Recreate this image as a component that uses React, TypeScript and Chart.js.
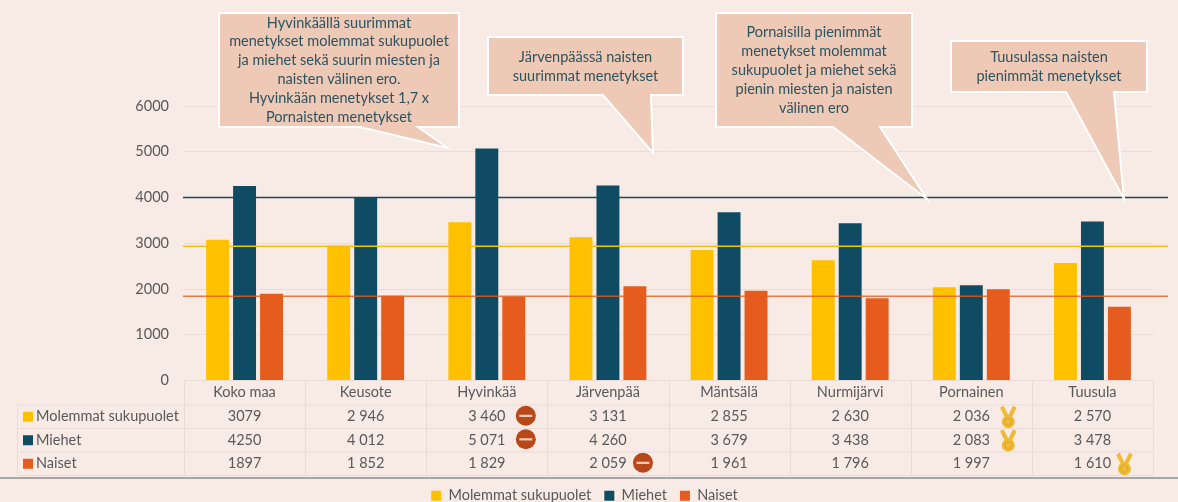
import React, { useEffect, useRef } from "react";
import { Chart, registerables } from "chart.js";

Chart.register(...registerables);

const categories = ["Koko maa", "Keusote", "Hyvinkää", "Järvenpää", "Mäntsälä", "Nurmijärvi", "Pornainen", "Tuusula"];
const seriesNames = ["Molemmat sukupuolet", "Miehet", "Naiset"];
const molemmat = [3079, 2946, 3460, 3131, 2855, 2630, 2036, 2570];
const miehet = [4250, 4012, 5071, 4260, 3679, 3438, 2083, 3478];
const naiset = [1897, 1852, 1829, 2059, 1961, 1796, 1997, 1610];
const referenceIndex = 1; // the horizontal lines sit at the Keusote values
const yTicks = [0, 1000, 2000, 3000, 4000, 5000, 6000];

const minusMarks = [
  { row: 0, col: 2, dx: 39 },
  { row: 1, col: 2, dx: 39 },
  { row: 2, col: 3, dx: 35 },
];
const medalMarks = [
  { row: 0, col: 6, dx: 37 },
  { row: 1, col: 6, dx: 37 },
  { row: 2, col: 7, dx: 32 },
];

const callouts = [
  {
    box: [219, 13, 459, 127], tail: [[360, 127], [448, 148], [418, 127]], firstLine: 23, lineStep: 18.8,
    lines: ["Hyvinkäällä suurimmat", "menetykset molemmat sukupuolet", "ja miehet sekä suurin miesten ja", "naisten välinen ero.", "Hyvinkään menetykset 1,7 x", "Pornaisten menetykset"],
  },
  {
    box: [488, 37, 683, 95], tail: [[603, 95], [653, 153], [651, 95]], firstLine: 57, lineStep: 19.5,
    lines: ["Järvenpäässä naisten", "suurimmat menetykset"],
  },
  {
    box: [716, 13, 912, 127], tail: [[833, 127], [927, 199], [880, 127]], firstLine: 32, lineStep: 19,
    lines: ["Pornaisilla pienimmät", "menetykset molemmat", "sukupuolet ja miehet sekä", "pienin miesten ja naisten", "välinen ero"],
  },
  {
    box: [951, 41, 1147, 92], tail: [[1066, 92], [1124, 199], [1114, 92]], firstLine: 57, lineStep: 19.5,
    lines: ["Tuusulassa naisten", "pienimmät menetykset"],
  },
];

const FONT = "Lato";
const TEXT = "#595959";
const BG = "#F8EAE4";
const COLORS = ["#FFC000", "#0F4C63", "#E55C1E"];
const BORDER = "#E9DCD6";
const ROW_Y = [380.5, 405, 428.5, 452, 475.5];

const fmt = (v: number, col: number) => {
  if (col === 0) return String(v);
  const s = String(v);
  return s.slice(0, -3) + " " + s.slice(-3);
};

const overlay = {
  id: "overlay",
  afterLayout(chart: any) {
    const l = chart.legend;
    if (l) {
      l.top += 11;
      l.bottom += 11;
      l.left += 8;
      l.right += 8;
    }
  },
  afterDatasetsDraw(chart: any) {
    const { ctx, chartArea, scales } = chart;
    const y = scales.y;
    const x = scales.x;
    const series = [molemmat, miehet, naiset];
    ctx.save();

    // reference lines
    series.forEach((s, i) => {
      const py = y.getPixelForValue(s[referenceIndex]) + 0.5;
      ctx.strokeStyle = COLORS[i];
      ctx.globalAlpha = i === 2 ? 0.8 : 1;
      ctx.lineWidth = 1.6;
      ctx.beginPath();
      ctx.moveTo(chartArea.left - 1, py);
      ctx.lineTo(1168, py);
      ctx.stroke();
    });
    ctx.globalAlpha = 1;

    // table
    const colW = (chartArea.right - chartArea.left) / categories.length;
    ctx.strokeStyle = BORDER;
    ctx.lineWidth = 1;
    ROW_Y.forEach((ry, i) => {
      ctx.beginPath();
      ctx.moveTo(i === 0 ? chartArea.left : 17, ry);
      ctx.lineTo(chartArea.right, ry);
      ctx.stroke();
    });
    for (let c = 0; c <= categories.length; c++) {
      const vx = Math.round(chartArea.left + c * colW) + 0.5;
      ctx.beginPath();
      ctx.moveTo(vx, ROW_Y[0]);
      ctx.lineTo(vx, ROW_Y[4]);
      ctx.stroke();
    }
    ctx.beginPath();
    ctx.moveTo(17.5, ROW_Y[1]);
    ctx.lineTo(17.5, ROW_Y[4]);
    ctx.stroke();

    ctx.font = `14.5px ${FONT}`;
    ctx.textBaseline = "middle";
    series.forEach((s, r) => {
      const cy = (ROW_Y[r + 1] + ROW_Y[r + 2]) / 2;
      ctx.fillStyle = COLORS[r];
      ctx.fillRect(23, cy - 5, 10, 10);
      ctx.fillStyle = TEXT;
      ctx.textAlign = "left";
      ctx.fillText(seriesNames[r], 36, cy);
      ctx.textAlign = "center";
      s.forEach((v, c) => {
        ctx.fillText(fmt(v, c), x.getPixelForValue(c), cy);
      });
    });

    minusMarks.forEach((m) => {
      const cx = x.getPixelForValue(m.col) + m.dx;
      const cy = (ROW_Y[m.row + 1] + ROW_Y[m.row + 2]) / 2 - 1;
      ctx.fillStyle = "#B8481A";
      ctx.beginPath();
      ctx.arc(cx, cy, 10, 0, Math.PI * 2);
      ctx.fill();
      ctx.fillStyle = "#F3CDB6";
      ctx.fillRect(cx - 6.5, cy - 1, 13, 2.2);
    });

    medalMarks.forEach((m) => {
      const cx = x.getPixelForValue(m.col) + m.dx;
      const cy = (ROW_Y[m.row + 1] + ROW_Y[m.row + 2]) / 2;
      ctx.strokeStyle = "#EDBB35";
      ctx.fillStyle = "#EDBB35";
      ctx.lineWidth = 4;
      ctx.beginPath();
      ctx.moveTo(cx - 6.5, cy - 10);
      ctx.lineTo(cx - 1, cy + 1);
      ctx.moveTo(cx + 6.5, cy - 10);
      ctx.lineTo(cx + 1, cy + 1);
      ctx.stroke();
      ctx.beginPath();
      ctx.arc(cx, cy + 5, 6.5, 0, Math.PI * 2);
      ctx.fill();
      ctx.strokeStyle = "#DFA51F";
      ctx.lineWidth = 1;
      ctx.beginPath();
      ctx.arc(cx, cy + 5, 3.5, 0, Math.PI * 2);
      ctx.stroke();
    });

    // separator
    ctx.fillStyle = "#A6A6A6";
    ctx.fillRect(0, 477, 1178, 2);

    // callouts
    callouts.forEach((c) => {
      const [x0, y0, x1, y1] = c.box;
      ctx.beginPath();
      ctx.moveTo(x0, y0);
      ctx.lineTo(x1, y0);
      ctx.lineTo(x1, y1);
      const t = [...c.tail].reverse();
      t.forEach((p) => ctx.lineTo(p[0], p[1]));
      ctx.lineTo(x0, y1);
      ctx.closePath();
      ctx.fillStyle = "#EDC9B6";
      ctx.strokeStyle = "#FFFFFF";
      ctx.lineWidth = 2;
      ctx.lineJoin = "miter";
      ctx.fill();
      ctx.stroke();
      ctx.fillStyle = "#2E5360";
      ctx.font = `14.5px ${FONT}`;
      ctx.textAlign = "center";
      ctx.textBaseline = "middle";
      c.lines.forEach((ln, i) => ctx.fillText(ln, (x0 + x1) / 2, c.firstLine + i * c.lineStep));
    });
    ctx.restore();
  },
};

export default function App() {
  const ref = useRef<HTMLCanvasElement>(null);
  useEffect(() => {
    const chart = new Chart(ref.current!, {
      type: "bar",
      data: {
        labels: categories,
        datasets: [molemmat, miehet, naiset].map((d, i) => ({
          label: seriesNames[i],
          data: d,
          backgroundColor: COLORS[i],
          categoryPercentage: 0.668,
          barPercentage: 0.85,
        })),
      },
      options: {
        responsive: false,
        animation: false,
        layout: { padding: { top: 106, right: 25, left: 0, bottom: 0 } },
        plugins: {
          tooltip: { enabled: false },
          legend: {
            position: "bottom",
            labels: {
              boxWidth: 10,
              boxHeight: 10,
              padding: 13,
              color: TEXT,
              font: { family: FONT, size: 14.5 },
            },
          },
        },
        scales: {
          x: {
            grid: { display: false, tickLength: 0 },
            border: { display: false },
            ticks: { color: TEXT, font: { family: FONT, size: 14.5 }, padding: 3, maxRotation: 0, autoSkip: false },
            afterFit(s: any) {
              s.height = 84;
            },
          },
          y: {
            min: 0,
            max: 6000,
            afterBuildTicks(s: any) {
              s.ticks = yTicks.map((value) => ({ value }));
            },
            grid: { color: "#EADCD6", drawTicks: false },
            border: { display: false },
            ticks: { color: TEXT, font: { family: FONT, size: 14.5 }, padding: 15, callback: (v: any) => String(v) },
            afterFit(s: any) {
              s.width = 184;
            },
          },
        },
      } as any,
      plugins: [overlay],
    });
    return () => chart.destroy();
  }, []);
  return (
    <div style={{ position: "absolute", left: 0, top: 0, width: 1178, height: 502, background: BG, overflow: "hidden" }}>
      <canvas ref={ref} width={1178} height={502} style={{ display: "block" }} />
    </div>
  );
}
